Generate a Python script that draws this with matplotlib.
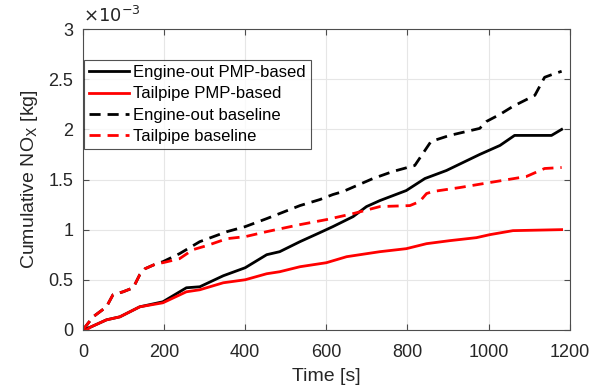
import matplotlib.pyplot as plt

plt.rcParams['font.family'] = ['Liberation Sans', 'DejaVu Sans']

# data in units of 1e-3 kg
t_eo_pmp = [0, 20, 58, 91, 140, 197, 255, 288, 346, 400, 453, 485, 535, 584, 616, 666, 699, 732, 797, 843, 896, 978, 1028, 1064, 1155, 1180]
eo_pmp = [0, 0.03, 0.10, 0.13, 0.23, 0.28, 0.42, 0.43, 0.54, 0.62, 0.75, 0.78, 0.88, 0.97, 1.03, 1.13, 1.23, 1.29, 1.39, 1.51, 1.59, 1.75, 1.84, 1.94, 1.94, 2.0]

t_tp_pmp = [0, 9, 20, 58, 91, 140, 197, 255, 288, 346, 400, 453, 485, 535, 600, 650, 699, 732, 797, 847, 904, 970, 1003, 1060, 1180]
tp_pmp = [0, 0, 0.03, 0.10, 0.13, 0.23, 0.27, 0.38, 0.40, 0.47, 0.50, 0.56, 0.58, 0.63, 0.67, 0.73, 0.76, 0.78, 0.81, 0.86, 0.89, 0.92, 0.95, 0.99, 1.0]

t_eo_base = [0, 25, 58, 74, 99, 124, 140, 153, 181, 197, 238, 288, 355, 400, 453, 535, 584, 616, 641, 715, 764, 818, 838, 858, 904, 978, 995, 1028, 1060, 1114, 1138, 1158, 1180]
eo_base = [0, 0.13, 0.23, 0.35, 0.38, 0.42, 0.55, 0.61, 0.66, 0.68, 0.76, 0.88, 0.98, 1.03, 1.11, 1.24, 1.30, 1.35, 1.38, 1.51, 1.58, 1.64, 1.76, 1.88, 1.94, 2.01, 2.08, 2.15, 2.23, 2.34, 2.52, 2.55, 2.58]

t_tp_base = [0, 25, 58, 74, 99, 124, 140, 153, 181, 197, 238, 271, 305, 355, 400, 453, 535, 600, 666, 732, 806, 830, 847, 862, 929, 1003, 1093, 1138, 1180]
tp_base = [0, 0.13, 0.23, 0.35, 0.38, 0.42, 0.55, 0.61, 0.66, 0.67, 0.71, 0.80, 0.84, 0.91, 0.93, 0.98, 1.05, 1.10, 1.16, 1.23, 1.24, 1.28, 1.36, 1.38, 1.42, 1.47, 1.53, 1.61, 1.62]

fig = plt.figure(figsize=(6.01, 3.89), dpi=100)
ax = fig.add_axes([0.138, 0.152, 0.81, 0.773])

dash = (0, (4, 2.5))
ax.plot(t_eo_pmp, [v * 1e-3 for v in eo_pmp], color='black', lw=2, label='Engine-out PMP-based')
ax.plot(t_tp_pmp, [v * 1e-3 for v in tp_pmp], color='red', lw=2, label='Tailpipe PMP-based')
ax.plot(t_eo_base, [v * 1e-3 for v in eo_base], color='black', lw=2, ls=dash, label='Engine-out baseline')
ax.plot(t_tp_base, [v * 1e-3 for v in tp_base], color='red', lw=2, ls=dash, label='Tailpipe baseline')

ax.set_xlim(0, 1200)
ax.set_ylim(0, 3e-3)
ax.set_xticks([0, 200, 400, 600, 800, 1000, 1200])
ax.set_yticks([0, 0.5e-3, 1e-3, 1.5e-3, 2e-3, 2.5e-3, 3e-3])
ax.set_yticklabels(['0', '0.5', '1', '1.5', '2', '2.5', '3'])
ax.text(0.0, 1.01, r'$\times10^{-3}$', transform=ax.transAxes, fontsize=13, color='#262626', va='bottom', ha='left')

ax.grid(True, color='#e6e6e6', lw=0.8)
ax.set_axisbelow(True)
for s in ax.spines.values():
    s.set_color('#4d4d4d')
    s.set_linewidth(0.8)
ax.tick_params(direction='in', length=4, colors='#4d4d4d', labelcolor='#262626', labelsize=13, top=True, right=True)
ax.tick_params(axis='x', pad=10)
ax.tick_params(axis='y', pad=7)

ax.set_xlabel('Time [s]', fontsize=14, color='#262626', labelpad=5)
ax.set_ylabel(r'Cumulative NO$_\mathrm{X}$ [kg]', fontsize=14, color='#262626', labelpad=6)

leg = ax.legend(loc='upper left', bbox_to_anchor=(0.0, 0.90), fontsize=12, frameon=True, fancybox=False,
                edgecolor='#262626', handlelength=2.4, handletextpad=0.25, borderpad=0.3, labelspacing=0.38, borderaxespad=0.05)
leg.get_frame().set_linewidth(0.8)

fig.savefig('out.png', dpi=100)
